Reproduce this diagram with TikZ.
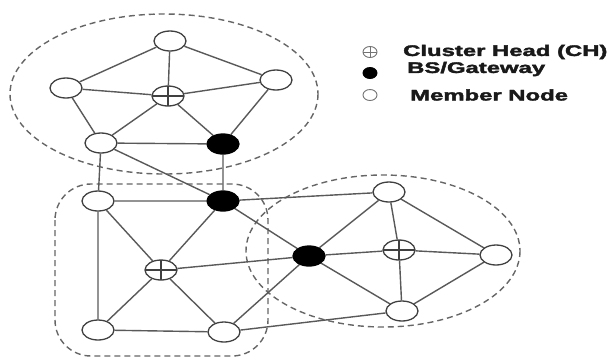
\documentclass[tikz,border=0pt]{standalone}
\usepackage{fontspec}
\setmainfont{Liberation Sans}
\newfontfamily\legendfont[FakeBold=2]{Liberation Sans Bold}
\usetikzlibrary{shapes.geometric,backgrounds}
\tikzset{
  mem/.style={ellipse, draw=black!75, line width=1.3pt, fill=white, minimum width=32pt, minimum height=20pt, inner sep=0pt},
  bs/.style={mem, fill=black, draw=black},
  ch/.style={mem, path picture={\draw[black!75, line width=1.1pt] (path picture bounding box.north) -- (path picture bounding box.south) (path picture bounding box.west) -- (path picture bounding box.east);}},
  lmem/.style={mem, minimum width=14pt, minimum height=11pt, line width=0.9pt, draw=black!55},
  lbs/.style={lmem, fill=black, draw=black},
  lch/.style={lmem, path picture={\draw[black!55, line width=0.8pt] (path picture bounding box.north) -- (path picture bounding box.south) (path picture bounding box.west) -- (path picture bounding box.east);}},
  link/.style={draw=black!65, line width=1.4pt},
  cluster/.style={draw=black!60, line width=1.4pt, dash pattern=on 6pt off 4pt},
  lbl/.style={anchor=west, inner sep=0pt, font=\legendfont\fontsize{15.4}{16}\selectfont, text=black!90}
}
\begin{document}
\begin{tikzpicture}[x=1pt, y=-1pt]
\useasboundingbox (0,0) rectangle (612,360);
% nodes
\node[mem] (t1) at (170,41) {};
\node[mem] (t2) at (66,88) {};
\node[ch]  (c1) at (168,96) {};
\node[mem] (t3) at (276,80) {};
\node[mem] (t4) at (101,143) {};
\node[bs]  (b1) at (223,144) {};
\node[mem] (l1) at (98,201) {};
\node[bs]  (b2) at (223,201) {};
\node[ch]  (c2) at (161,270) {};
\node[mem] (l2) at (98,330) {};
\node[mem] (l3) at (224,332) {};
\node[bs]  (b3) at (309,256) {};
\node[mem] (r1) at (389,192) {};
\node[ch]  (c3) at (399,250) {};
\node[mem] (r2) at (496,255) {};
\node[mem] (r3) at (402,311) {};
\begin{scope}[on background layer]
% clusters
\draw[cluster] (164,94) ellipse [x radius=154, y radius=80];
\draw[cluster, rounded corners=36pt] (55,184) rectangle (268,356);
\draw[cluster] (383,251) ellipse [x radius=137, y radius=76];
% links
\path[link]
  (t1) -- (t2) (t1) -- (c1) (t1) -- (t3) (t2) -- (c1) (t2) -- (t4)
  (c1) -- (t3) (c1) -- (t4) (c1) -- (b1) (t3) -- (b1) (t4) -- (b1)
  (t4) -- (b2) (t4) -- (l1) (b1) -- (b2)
  (l1) -- (b2) (l1) -- (c2) (l1) -- (l2) (b2) -- (c2) (c2) -- (l2)
  (c2) -- (l3) (l2) -- (l3) (c2) -- (b3) (l3) -- (b3) (l3) -- (r3)
  (b2) -- (b3) (b2) -- (r1)
  (b3) -- (r1) (b3) -- (c3) (b3) -- (r3) (r1) -- (c3) (c3) -- (r3)
  (r1) -- (r2) (c3) -- (r2) (r2) -- (r3);
\end{scope}
% legend
\node[lch] (k1) at (370,52) {};
\node[lbs] (k2) at (370,73) {};
\node[lmem] (k3) at (370,95) {};
\node[lbl] (k1t) at (403,52) {\scalebox{1.55}[1]{Cluster Head (CH)}};
\node[lbl] (k2t) at (407,69) {\scalebox{1.55}[1]{BS/Gateway}};
\node[lbl] (k3t) at (410,95) {\scalebox{1.55}[1]{Member Node}};
\end{tikzpicture}
\end{document}
